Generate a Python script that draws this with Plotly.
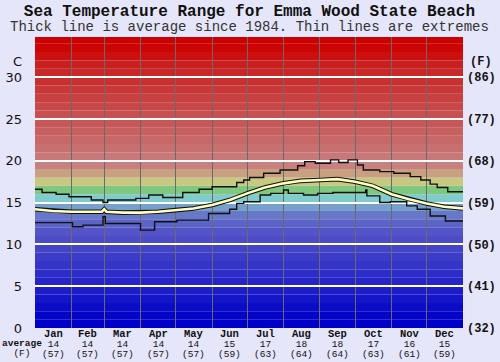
import plotly.graph_objects as go

# ---- data ----
months = ["Jan", "Feb", "Mar", "Apr", "May", "Jun", "Jul", "Aug", "Sep", "Oct", "Nov", "Dec"]
month_start_day = [0, 31, 59, 90, 120, 151, 181, 212, 243, 273, 304, 334, 365]
avg_c = [14, 14, 14, 14, 14, 15, 17, 18, 18, 17, 16, 15]
avg_f = [57, 57, 57, 57, 57, 59, 63, 64, 64, 63, 61, 59]

avg_days = [0, 15, 31, 45, 57, 59, 61, 75, 90, 105, 120, 135, 151, 166, 181, 196, 212, 227,
            243, 258, 273, 288, 304, 319, 334, 349, 365]
avg_vals = [14.2, 14.0, 13.9, 13.9, 13.9, 14.2, 13.9, 13.8, 13.8, 13.9, 14.1, 14.3, 14.7, 15.3,
            16.1, 16.8, 17.3, 17.6, 17.7, 17.8, 17.5, 17.0, 16.0, 15.4, 14.9, 14.5, 14.3]

max_days = [0, 6, 18, 29, 48, 58, 62, 86, 97, 109, 126, 140, 151, 172, 178, 183, 195, 209, 224,
            230, 239, 252, 259, 267, 275, 280, 294, 306, 320, 329, 337, 343, 352, 365]
max_vals = [16.6, 16.2, 16.0, 15.7, 15.3, 15.0, 15.3, 15.5, 15.9, 15.6, 16.2, 16.6, 16.9, 17.4,
            17.7, 18.0, 18.5, 18.9, 19.4, 19.9, 19.7, 20.1, 19.8, 20.1, 19.5, 18.9, 18.7, 18.5,
            18.1, 17.7, 17.2, 16.8, 16.3, 16.3]

min_days = [0, 32, 41, 58, 60, 90, 102, 121, 148, 166, 172, 178, 192, 201, 212, 216, 229, 241,
            254, 282, 283, 294, 303, 317, 326, 337, 350, 365]
min_vals = [12.6, 12.1, 12.3, 13.3, 12.5, 11.7, 12.7, 12.9, 13.7, 14.2, 14.9, 15.1, 15.9, 16.1,
            16.5, 16.1, 15.9, 16.1, 16.2, 16.5, 15.8, 15.0, 15.1, 14.6, 14.2, 13.4, 12.8, 12.8]

c_ticks = [0, 5, 10, 15, 20, 25, 30]
f_ticks = [32, 41, 50, 59, 68, 77, 86]

# colour of each 1-degree band from 0 C upwards
band_colors = ["#0000c8", "#0505c8", "#0c0cc8", "#1414c8", "#1c1cc8", "#2424c8", "#2c2cc8",
               "#3434c8", "#3c3cc6", "#4444c6", "#4c4cc6", "#5454c8", "#5c64c8", "#6878c8",
               "#78a0cc", "#80cccc", "#80c880", "#c8c880", "#c8a080", "#c88080", "#c87878",
               "#c87070", "#c86868", "#c86060", "#c85858", "#c85050", "#c84848", "#c84040",
               "#c83838", "#c83030", "#c82828", "#c82020", "#cc1010", "#cc0404", "#cc0000"]

YMAX = 34.8
BG = "#e6e6fa"
MONO = "Liberation Mono"

fig = go.Figure()

# average: black outline then pale yellow core
fig.add_trace(go.Scatter(x=avg_days, y=avg_vals, mode="lines",
                         line=dict(color="#101010", width=4.6), hoverinfo="skip", showlegend=False))
fig.add_trace(go.Scatter(x=max_days, y=max_vals, mode="lines", line_shape="hv",
                         line=dict(color="#101010", width=1.4), showlegend=False))
fig.add_trace(go.Scatter(x=min_days, y=min_vals, mode="lines", line_shape="hv",
                         line=dict(color="#101010", width=1.4), showlegend=False))
fig.add_trace(go.Scatter(x=avg_days, y=avg_vals, mode="lines",
                         line=dict(color="#ffffc0", width=2.6), showlegend=False))
# invisible trace so the Fahrenheit axis renders
fig.add_trace(go.Scatter(x=[0], y=[32], yaxis="y2", mode="markers",
                         marker=dict(opacity=0), hoverinfo="skip", showlegend=False))

for i, col in enumerate(band_colors):
    fig.add_shape(type="rect", xref="x", yref="y", x0=0, x1=365, y0=i,
                  y1=(i + 1) if i < len(band_colors) - 1 else YMAX,
                  fillcolor=col, line=dict(width=0), layer="below")

W_PLOT = 427.7
H_PLOT = 291.0
def px(xp):
    return (xp - 35) / W_PLOT
def py(yp):
    return (328 - yp) / H_PLOT

def label(x, y, text, size, family=MONO, color="#111", xref="paper", yanchor="middle"):
    fig.add_annotation(x=x, y=y, xref=xref, yref="paper", text=text, showarrow=False,
                       xanchor="center", yanchor=yanchor, borderpad=0,
                       font=dict(family=family, size=size, color=color))

# bottom month labels: one three-line block per month (line pitch ~10 px)
for i, m in enumerate(months):
    mid = (month_start_day[i] + month_start_day[i + 1]) / 2
    txt = ("<span style='font-size:10.5px'><b>%s</b></span><br>"
           "<span style='font-size:9.5px'>%d</span><br>"
           "<span style='font-size:9.5px'>(%d)</span>") % (m, avg_c[i], avg_f[i])
    label(mid, py(343.5), txt, 7.7, xref="x")

label(px(22), py(348), "<span style='font-size:9.5px'><b>average</b></span><br>"
                       "<span style='font-size:9.5px'>(F)</span>", 7.7)
label(px(18), py(61), "C", 13, family="DejaVu Sans")
label(px(481), py(62), "<b>(F)</b>", 12)
# title and subtitle as one two-line block (line pitch ~15 px)
label(px(249), py(19.5),
      "<span style='font-size:16px;color:#111'><b>Sea Temperature Range for Emma Wood State Beach</b></span><br>"
      "<span style='font-size:14px;color:#333'>Thick line is average since 1984. Thin lines are extremes</span>",
      11.5)

fig.update_layout(
    width=500, height=362,
    margin=dict(l=35, r=37.3, t=37, b=34, autoexpand=False),
    paper_bgcolor=BG, plot_bgcolor=BG,
    xaxis=dict(range=[0, 365], tickvals=month_start_day, showticklabels=False, ticks="",
               showgrid=True, gridcolor="#6a6a6a", gridwidth=1, zeroline=False,
               automargin=False),
    yaxis=dict(range=[0, YMAX], tickvals=c_ticks, ticks="", ticklabelstandoff=12,
               tickfont=dict(family="DejaVu Sans", size=13, color="#111"),
               showgrid=True, gridcolor="#ffffff", gridwidth=2, zeroline=False,
               automargin=False),
    yaxis2=dict(range=[32, 32 + YMAX * 1.8], overlaying="y", side="right",
                tickvals=f_ticks, ticktext=["<b>(%d)</b>" % f for f in f_ticks], ticks="",
                ticklabelstandoff=3, tickfont=dict(family=MONO, size=12, color="#111"),
                showgrid=False, zeroline=False, automargin=False),
    showlegend=False,
)

fig.write_html("out.html", config={"displayModeBar": False})

# remove the default page margin so the figure sits at the window's top-left corner
with open("out.html", "r", encoding="utf-8") as f:
    html = f.read()
html = html.replace("<head>", "<head><style>html,body{margin:0;padding:0;overflow:hidden;}</style>", 1)
with open("out.html", "w", encoding="utf-8") as f:
    f.write(html)
